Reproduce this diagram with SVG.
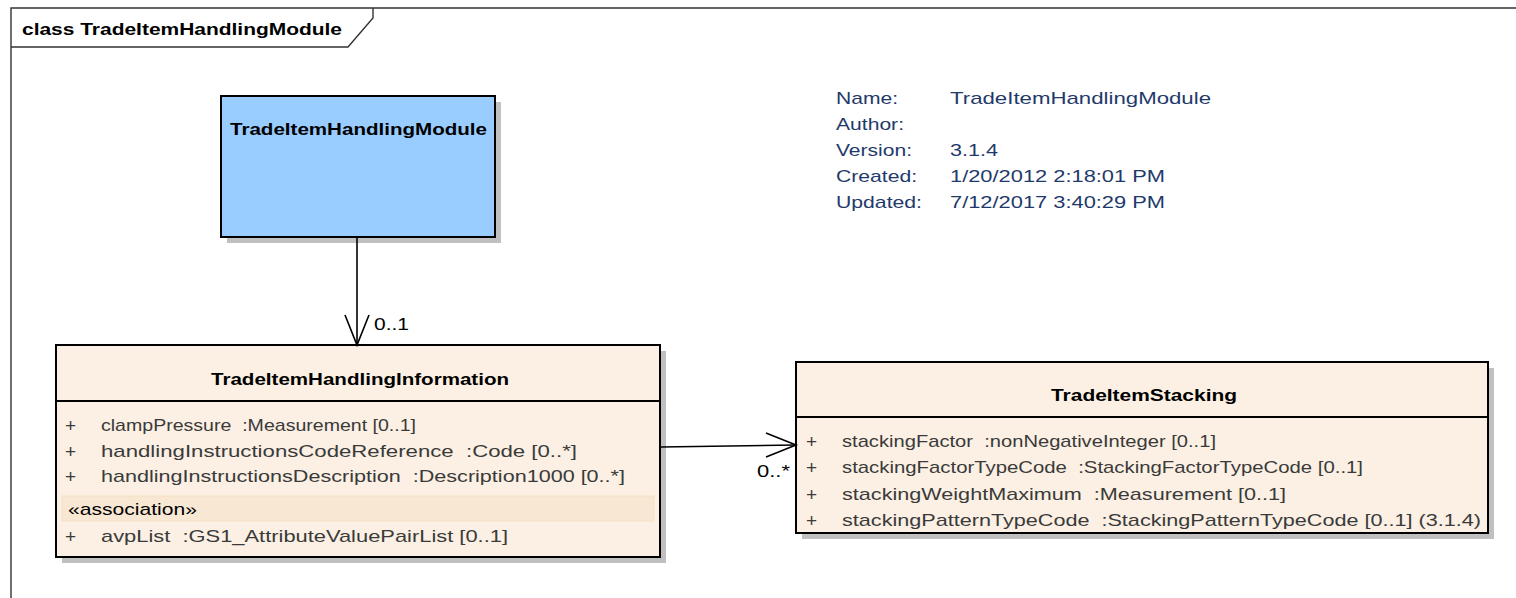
<svg xmlns="http://www.w3.org/2000/svg" width="1516" height="598" viewBox="0 0 1516 598">
<style>
text{font-family:"Liberation Sans",Arial,sans-serif;white-space:pre}
.frame{fill:none;stroke:#333;stroke-width:1.4}
.shadow{fill:#c0c0c0}
.cls{fill:#fbf0e3;stroke:#000;stroke-width:2}
.mod{fill:#99ccff;stroke:#000;stroke-width:2}
.sep{stroke:#000;stroke-width:2}
.band{fill:#f8e7d3;stroke:#f5e0c6;stroke-width:1}
.ttl{font-weight:bold;font-size:16px;fill:#000}
.attr{font-size:17px;fill:#3a3a3a}
.plus{font-size:19px;fill:#3a3a3a}
.meta{font-size:17px;fill:#1f3a6a}
.mult{font-size:16px;fill:#000}
.conn{fill:none;stroke:#000;stroke-width:1.6}
</style>
<g id="frame">
<path class="frame" d="M11,598 V8 H1516"/>
<path class="frame" d="M11,47 H348 L373,18 V8"/>
<text class="ttl" x="22" y="35" textLength="320" lengthAdjust="spacingAndGlyphs">class TradeItemHandlingModule</text>
</g>
<g id="notes">
<text class="meta" x="836" y="104" textLength="62" lengthAdjust="spacingAndGlyphs">Name:</text>
<text class="meta" x="950" y="104" textLength="261" lengthAdjust="spacingAndGlyphs">TradeItemHandlingModule</text>
<text class="meta" x="836" y="130" textLength="68" lengthAdjust="spacingAndGlyphs">Author:</text>
<text class="meta" x="836" y="156" textLength="76" lengthAdjust="spacingAndGlyphs">Version:</text>
<text class="meta" x="950" y="156" textLength="48" lengthAdjust="spacingAndGlyphs">3.1.4</text>
<text class="meta" x="836" y="182" textLength="81" lengthAdjust="spacingAndGlyphs">Created:</text>
<text class="meta" x="950" y="182" textLength="215" lengthAdjust="spacingAndGlyphs">1/20/2012 2:18:01 PM</text>
<text class="meta" x="836" y="208" textLength="86" lengthAdjust="spacingAndGlyphs">Updated:</text>
<text class="meta" x="950" y="208" textLength="215" lengthAdjust="spacingAndGlyphs">7/12/2017 3:40:29 PM</text>
</g>
<g id="TradeItemHandlingModule">
<rect class="shadow" x="227" y="102" width="274" height="141"/>
<rect class="mod" x="221" y="96" width="274" height="141"/>
<text class="ttl" x="230" y="135" textLength="257" lengthAdjust="spacingAndGlyphs">TradeItemHandlingModule</text>
</g>
<g id="TradeItemHandlingInformation">
<rect class="shadow" x="62" y="351" width="604" height="212"/>
<rect class="cls" x="56" y="345" width="604" height="212"/>
<line class="sep" x1="56" y1="401" x2="660" y2="401"/>
<text class="ttl" x="211" y="385" textLength="298" lengthAdjust="spacingAndGlyphs">TradeItemHandlingInformation</text>
<text class="plus" x="65" y="432">+</text>
<text class="attr" x="101" y="431" textLength="315" lengthAdjust="spacingAndGlyphs">clampPressure  :Measurement [0..1]</text>
<text class="plus" x="65" y="458">+</text>
<text class="attr" x="101" y="457" textLength="476" lengthAdjust="spacingAndGlyphs">handlingInstructionsCodeReference  :Code [0..*]</text>
<text class="plus" x="65" y="483">+</text>
<text class="attr" x="101" y="482" textLength="524" lengthAdjust="spacingAndGlyphs">handlingInstructionsDescription  :Description1000 [0..*]</text>
<rect class="band" x="62" y="496" width="592" height="25"/>
<text class="attr" x="68" y="515" textLength="129" lengthAdjust="spacingAndGlyphs" style="fill:#000">«association»</text>
<text class="plus" x="65" y="543">+</text>
<text class="attr" x="101" y="542" textLength="407" lengthAdjust="spacingAndGlyphs">avpList  :GS1_AttributeValuePairList [0..1]</text>
</g>
<g id="TradeItemStacking">
<rect class="shadow" x="802" y="368" width="692" height="171"/>
<rect class="cls" x="796" y="362" width="692" height="171"/>
<line class="sep" x1="796" y1="417" x2="1488" y2="417"/>
<text class="ttl" x="1051" y="401" textLength="186" lengthAdjust="spacingAndGlyphs">TradeItemStacking</text>
<text class="plus" x="806" y="448">+</text>
<text class="attr" x="842" y="447" textLength="374" lengthAdjust="spacingAndGlyphs">stackingFactor  :nonNegativeInteger [0..1]</text>
<text class="plus" x="806" y="474">+</text>
<text class="attr" x="842" y="473" textLength="521" lengthAdjust="spacingAndGlyphs">stackingFactorTypeCode  :StackingFactorTypeCode [0..1]</text>
<text class="plus" x="806" y="501">+</text>
<text class="attr" x="842" y="500" textLength="444" lengthAdjust="spacingAndGlyphs">stackingWeightMaximum  :Measurement [0..1]</text>
<text class="plus" x="806" y="527">+</text>
<text class="attr" x="842" y="526" textLength="639" lengthAdjust="spacingAndGlyphs">stackingPatternTypeCode  :StackingPatternTypeCode [0..1] (3.1.4)</text>
</g>
<g id="connectors">
<line class="conn" x1="357" y1="237" x2="357" y2="345"/>
<polyline class="conn" points="345,315 357,345 369,315"/>
<text class="mult" x="374" y="330" textLength="35" lengthAdjust="spacingAndGlyphs">0..1</text>
<line class="conn" x1="661" y1="447" x2="796" y2="445"/>
<polyline class="conn" points="766,433 796,445 766,457"/>
<text class="mult" x="757" y="477" textLength="33" lengthAdjust="spacingAndGlyphs">0..*</text>
</g>
</svg>
